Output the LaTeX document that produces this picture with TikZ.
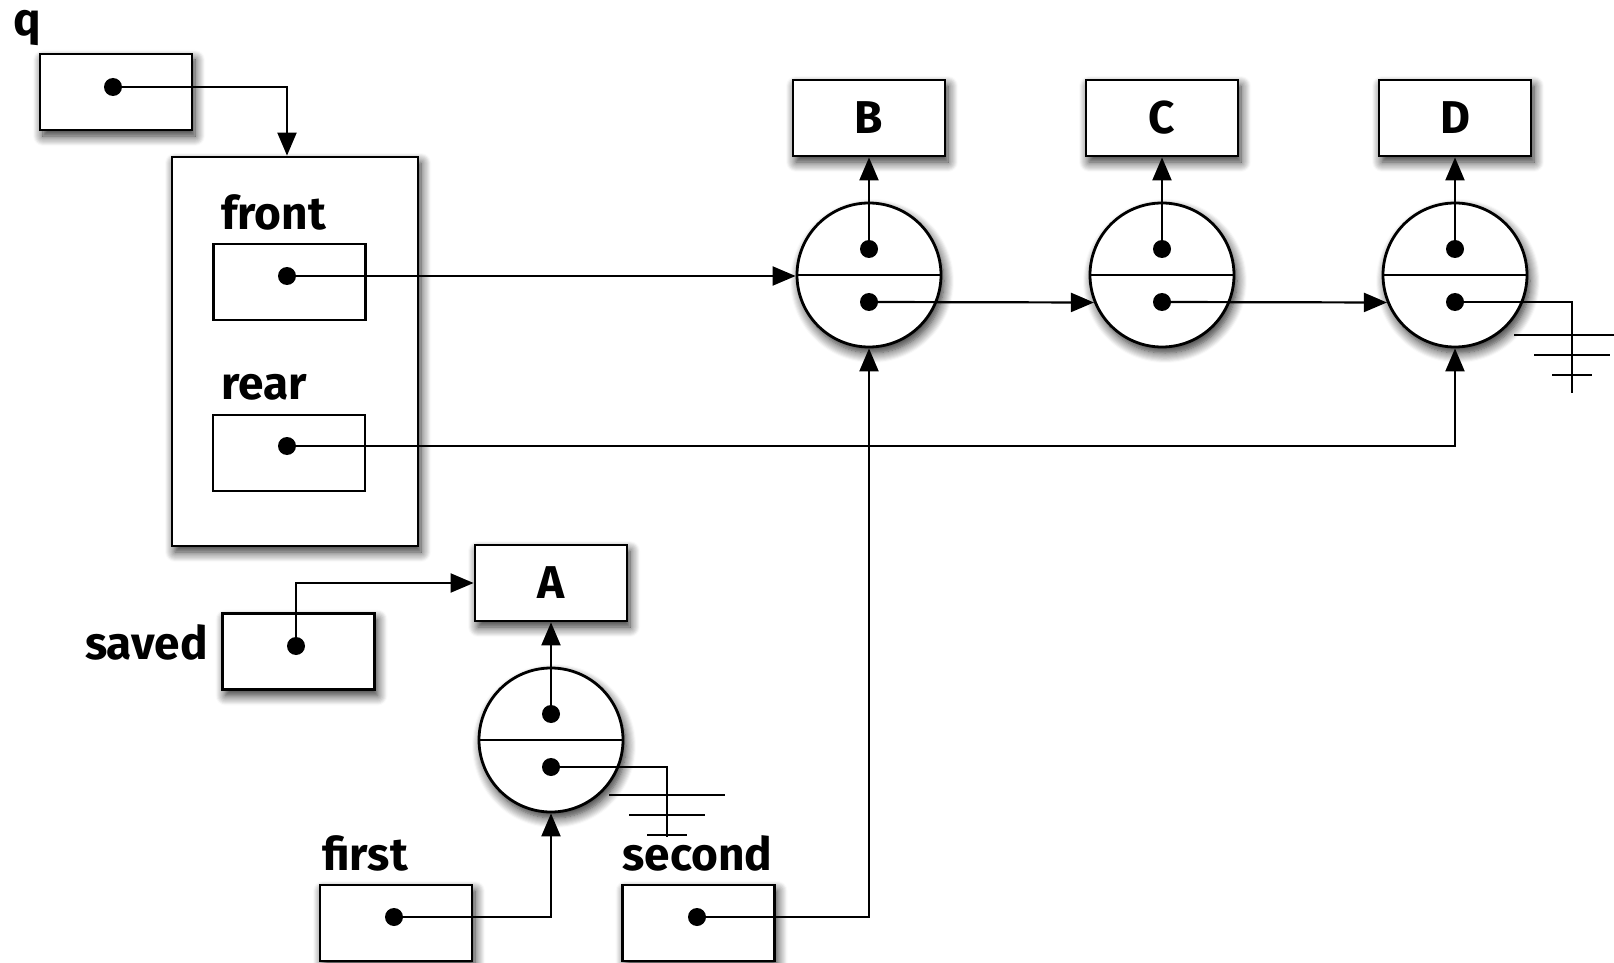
\documentclass[tikz,border=0pt]{standalone}
\usepackage{fontspec}
\setmainfont{Fira Sans}
\usepackage{tikz}
\usetikzlibrary{arrows.meta,positioning,shadows,shadows.blur,calc}

\begin{document}
\begin{tikzpicture}[x=0.5pt, y=-0.5pt,
      lift/.style={blur shadow={shadow xshift=1.5pt, shadow yshift=-3pt, shadow blur radius=5pt, shadow blur steps=10, shadow opacity=85}},
      slot/.style={rectangle, draw=black, fill=white, line width=1.4pt, minimum width=76pt, minimum height=38pt},
      cell/.style={slot, lift},
      qframe/.style={cell, minimum width=123pt, minimum height=194.5pt},
      listnode/.style={circle, draw=black, fill=white, line width=1.4pt, minimum size=72pt, inner sep=0pt, lift},
      blob/.style={circle, fill=black, minimum size=9pt, inner sep=0pt},
      word/.style={font=\fontsize{23}{27}\selectfont\bfseries, inner sep=0pt},
      wire/.style={line width=1.1pt},
      ptr/.style={-{Triangle[length=11.5pt,width=9.5pt]}, line width=1.1pt},
      earth/.pic={\draw[wire] (-58,0) -- (58,0) (-38,20) -- (38,20) (-20,40) -- (20,40);}
    ]
      \useasboundingbox (0,0) rectangle (1614,963);
      \node[word, anchor=base west] (qlab) at (13,36) {q};
      \node[cell] (qbox) at (116,92) {};
      \node[blob] (qdot) at (113,87) {};
      \node[qframe] (queue) at (295,351.5) {};
      \node[word, anchor=base west] (frontlab) at (221,230) {front};
      \node[slot] (frontbox) at (289.5,282) {};
      \node[blob] (frontdot) at (287,276) {};
      \node[word, anchor=base west] (rearlab) at (221,400) {rear};
      \node[slot] (rearbox) at (289,453) {};
      \node[blob] (reardot) at (287,446) {};
      \foreach \v/\x/\y in {A/551/583, B/869/118, C/1162/118, D/1455/118} {
        \node[cell, word] (box\v) at (\x,\y) {\v};
        \node[listnode] (n\v) at (\x,\y+157) {};
        \draw[wire] (n\v.west) -- (n\v.east);
        \node[blob] (val\v) at ($(n\v.center)+(0,-26)$) {};
        \node[blob] (nxt\v) at ($(n\v.center)+(0,27)$) {};
        \draw[ptr] (val\v.center) -- (box\v.south);
      }
      \node[word, anchor=base east] (savedlab) at (208,659) {saved};
      \node[cell] (savedbox) at (298.5,651.5) {};
      \node[blob] (saveddot) at (296,646) {};
      \node[word, anchor=base west] (firstlab) at (322,870) {first};
      \node[cell] (firstbox) at (396,923) {};
      \node[blob] (firstdot) at (394,917) {};
      \node[word, anchor=base west] (secondlab) at (622,870) {second};
      \node[cell] (secondbox) at (698.5,923) {};
      \node[blob] (seconddot) at (697,917) {};
      \coordinate (gndA) at (667,837);
      \coordinate (gndD) at (1572,393);
      \draw[ptr] (qdot.center) -| (queue.north -| frontdot);
      \draw[ptr] (frontdot.center) -- (frontdot -| nB.west);
      \draw[ptr] (nxtB.center) -- (nC.202);
      \draw[ptr] (nxtC.center) -- (nD.202);
      \draw[ptr] (reardot.center) -| (nD.south);
      \draw[ptr] (seconddot.center) -| (nB.south);
      \draw[ptr] (firstdot.center) -| (nA.south);
      \draw[ptr] (saveddot.center) |- (boxA.west);
      \draw[wire] (nxtA.center) -| (gndA);
      \draw[wire] (nxtD.center) -| (gndD);
      \pic at (667,795) {earth};
      \pic at (1572,335) {earth};
    \end{tikzpicture}
\end{document}
